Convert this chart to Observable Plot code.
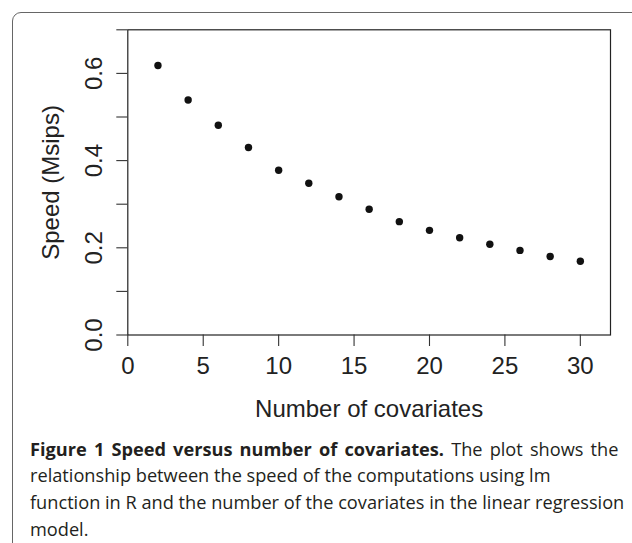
<!DOCTYPE html>
<html><head><meta charset="utf-8">
<script src="https://cdn.jsdelivr.net/npm/d3@7"></script>
<script src="https://cdn.jsdelivr.net/npm/@observablehq/plot@0.6"></script>
<style>
html,body{margin:0;padding:0;background:#fff;width:632px;height:543px;overflow:hidden;}
#frame{position:absolute;left:12px;top:12px;width:700px;height:600px;border:1.3px solid #666;border-top-left-radius:9px;box-sizing:border-box;}
#chart{position:absolute;left:0;top:0;}
#caption{position:absolute;left:30px;top:435.5px;font-family:"Open Sans","Noto Sans",sans-serif;font-size:18.2px;line-height:26.7px;color:#231f20;}
#caption div{white-space:nowrap;}
#caption .l1{word-spacing:2.4px;}
</style></head><body>
<div id="frame"></div>
<div id="chart"></div>
<div id="caption">
<div class="l1"><b>Figure 1 Speed versus number of covariates.</b> The plot shows the</div>
<div>relationship between the speed of the computations using lm</div>
<div>function in R and the number of the covariates in the linear regression</div>
<div>model.</div>
</div>
<script>
const covariates = [2, 4, 6, 8, 10, 12, 14, 16, 18, 20, 22, 24, 26, 28, 30];
const speed = [0.618, 0.539, 0.481, 0.430, 0.378, 0.348, 0.317, 0.2885, 0.260, 0.240, 0.223, 0.208, 0.194, 0.180, 0.169];
const xTicks = [0, 5, 10, 15, 20, 25, 30];
const yTicks = [0, 0.1, 0.2, 0.3, 0.4, 0.5, 0.6, 0.7];
const yLabeled = [0, 0.2, 0.4, 0.6];
const xTitle = "Number of covariates";
const yTitle = "Speed (Msips)";

const data = covariates.map((c, i) => ({c, s: speed[i]}));
const font = "'Liberation Sans', Arial, Helvetica, sans-serif";
const chart = Plot.plot({
  width: 632, height: 425,
  marginLeft: 127.3, marginRight: 22, marginTop: 29.3, marginBottom: 90.5,
  style: {fontFamily: font, fontSize: "24px", color: "#222", background: "transparent"},
  x: {domain: [0, 32], label: null},
  y: {domain: [0, 0.7], label: null},
  marks: [
    Plot.frame({stroke: "#222", strokeWidth: 1.2}),
    Plot.axisX(xTicks, {tickSize: 11.5, tickPadding: 10.5, fontSize: 24, stroke: "#333", strokeWidth: 1.1, label: null}),
    Plot.axisY(yTicks, {tickSize: 11, stroke: "#333", strokeWidth: 1.1, tickFormat: () => "", label: null}),
    Plot.text(yLabeled, {y: d => d, frameAnchor: "left", rotate: -90, lineAnchor: "bottom", textAnchor: "middle", dx: -25.6, text: d => d3.format(".1f")(d), fontSize: 24, fill: "#222"}),
    Plot.text([xTitle], {frameAnchor: "bottom", lineAnchor: "bottom", textAnchor: "middle", dy: 82.2, text: d => d, fontSize: 24, fill: "#222"}),
    Plot.text([yTitle], {frameAnchor: "left", rotate: -90, lineAnchor: "bottom", textAnchor: "middle", dx: -68.8, text: d => d, fontSize: 24, fill: "#222"}),
    Plot.dot(data, {x: "c", y: "s", r: 3.7, fill: "#111", stroke: "none"})
  ]
});
document.getElementById("chart").appendChild(chart);
</script>
</body></html>
